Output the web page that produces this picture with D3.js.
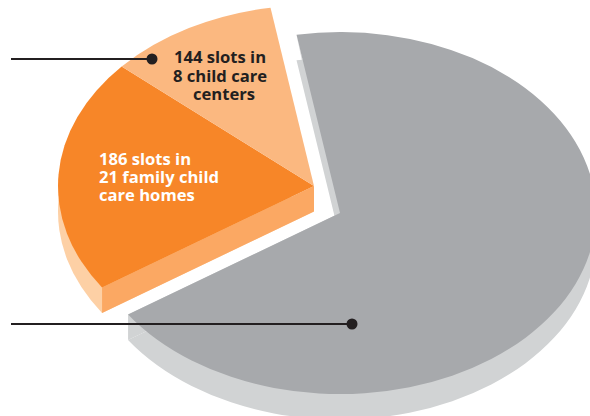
<!DOCTYPE html>
<html>
<head>
<meta charset="utf-8">
<script src="https://cdn.jsdelivr.net/npm/d3@7/dist/d3.min.js"></script>
<style>
  html, body { margin: 0; padding: 0; background: #fff; }
  svg { display: block; }
  text { font-family: "Open Sans", sans-serif; font-weight: 700; font-size: 16.6px; }
</style>
</head>
<body>
<svg id="chart" width="590" height="416"></svg>
<script>
// Child care slots by setting
const categories = ["other", "family child care homes", "child care centers"];
const slots = [836, 186, 144];

const topColors  = ["#a7a9ac", "#f78628", "#fbb880"];
const rimColors  = ["#d1d3d4", "#fdd0a5", "#fbb880"];
const wallColors = ["#d1d3d4", "#fba863", "#fbb880"];

const label186 = ["186 slots in", "21 family child", "care homes"];
const label144 = ["144 slots in", "8 child care", "centers"];

// Ellipse of the tilted disc, slab depth and slice centres
const rx = 256, ry = 181, depth = 25.5;
const centres = [{x: 340, y: 213}, {x: 314, y: 186}, {x: 314, y: 186}];
const startDeg = -13.7;

const svg = d3.select("#chart");

const pie = d3.pie().sort(null)
  .startAngle(startDeg * Math.PI / 180)
  .endAngle((startDeg + 360) * Math.PI / 180);
const slices = pie(slots);

// Slice shares are measured on screen; the disc is flattened afterwards,
// so each angle is converted to its pre-flattening equivalent.
function unflatten(a) {
  const t = Math.atan2(Math.sin(a) * ry, Math.cos(a) * rx);
  return t + 2 * Math.PI * Math.round((a - t) / (2 * Math.PI));
}
const arc = d3.arc().innerRadius(0).outerRadius(rx);

function rimPoint(a, c, dy = 0) {
  const t = unflatten(a);
  return [c.x + rx * Math.sin(t), c.y - ry * Math.cos(t) + dy];
}

function sector(sel, d, c, dy, fill) {
  sel.append("path")
    .attr("transform", `translate(${c.x},${c.y + dy}) scale(1,${ry / rx})`)
    .attr("d", arc({startAngle: unflatten(d.startAngle), endAngle: unflatten(d.endAngle)}))
    .attr("fill", fill);
}

const line = d3.line();

// Slab walls sit behind the top faces
const gray = slices[0], orange = slices[1], peach = slices[2];

sector(svg, gray, centres[0], depth, rimColors[0]);
svg.append("path")
  .attr("d", line([
    rimPoint(gray.endAngle, centres[0]),
    rimPoint(gray.endAngle, centres[0], depth),
    [centres[0].x, centres[0].y + depth],
    [centres[0].x, centres[0].y]
  ]) + "Z")
  .attr("fill", wallColors[0]);

// Sliver of inner wall along the upper cut of the large slice
const lip = [-5.2, 2.5];
svg.append("path")
  .attr("d", line([
    rimPoint(gray.startAngle, centres[0]),
    [centres[0].x, centres[0].y],
    [centres[0].x + lip[0], centres[0].y + lip[1]]
  ]) + "Z")
  .attr("fill", wallColors[0]);

sector(svg, orange, centres[1], depth, rimColors[1]);
svg.append("path")
  .attr("d", line([
    [centres[1].x, centres[1].y],
    [centres[1].x, centres[1].y + depth],
    rimPoint(orange.startAngle, centres[1], depth),
    rimPoint(orange.startAngle, centres[1])
  ]) + "Z")
  .attr("fill", wallColors[1]);

// Top faces
slices.forEach((d, i) => sector(svg, d, centres[i], 0, topColors[i]));

// Leader lines with end dots
const ink = "#231f20";
const leaders = [{x0: 11, x1: 152, y: 59}, {x0: 11, x1: 352, y: 324}];
leaders.forEach(l => {
  svg.append("line")
    .attr("x1", l.x0).attr("x2", l.x1)
    .attr("y1", l.y).attr("y2", l.y)
    .attr("stroke", ink).attr("stroke-width", 2.2);
  svg.append("circle")
    .attr("cx", l.x1).attr("cy", l.y).attr("r", 5.5)
    .attr("fill", ink);
});

// Slice labels, one text block per slice
const centersLabel = svg.append("text")
  .attr("y", 63)
  .attr("text-anchor", "middle")
  .attr("fill", ink);
label144.forEach((t, i) => {
  centersLabel.append("tspan")
    .attr("x", [220, 220, 224][i])
    .attr("dy", i ? 18.5 : 0)
    .text(t);
});

const homesLabel = svg.append("text")
  .attr("y", 165)
  .attr("fill", "#fff");
label186.forEach((t, i) => {
  homesLabel.append("tspan")
    .attr("x", 99)
    .attr("dy", i ? 18 : 0)
    .text(t);
});
</script>
</body>
</html>
